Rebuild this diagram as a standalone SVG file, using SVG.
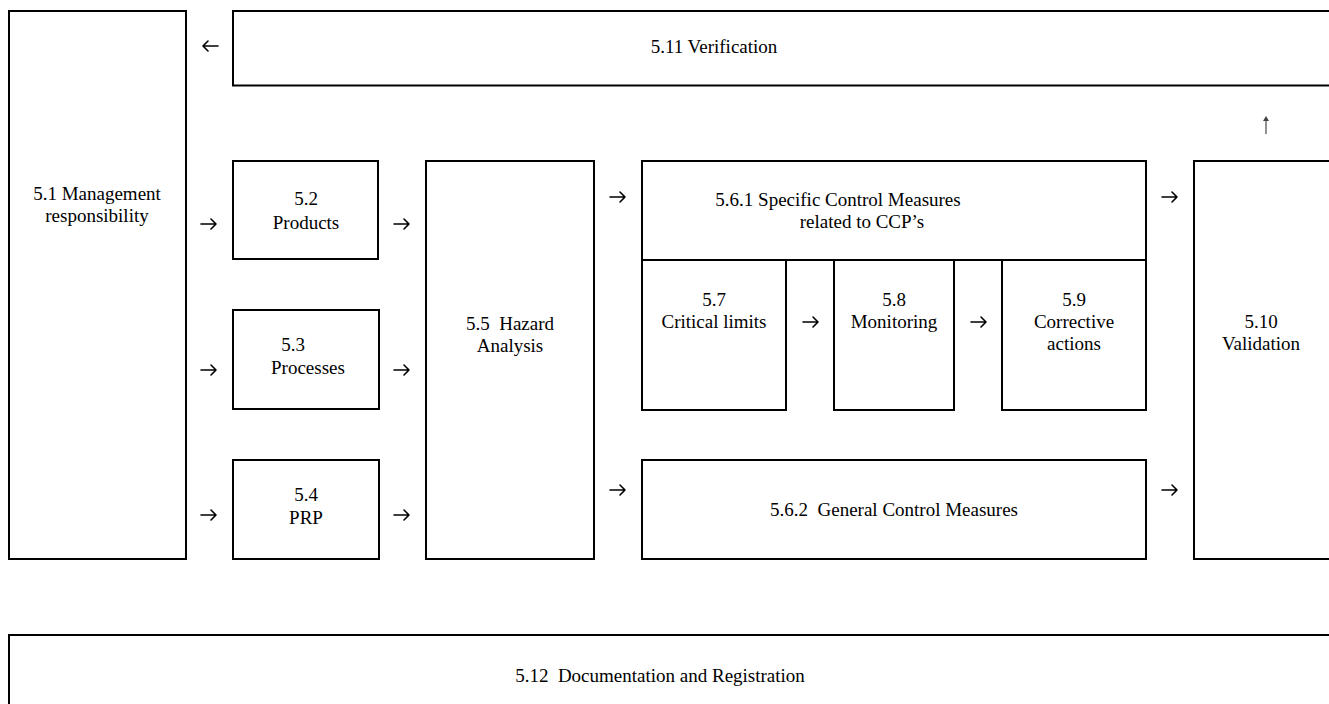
<svg xmlns="http://www.w3.org/2000/svg" width="1329" height="704" viewBox="0 0 1329 704">
<style>
.box{fill:#fff;stroke:#000;stroke-width:2}
.t{font-family:"Liberation Serif","Times New Roman",serif;font-size:19px;fill:#000;text-anchor:middle}
.arr{fill:none;stroke:#000;stroke-width:1.6;stroke-linecap:round;stroke-linejoin:round}
.up{fill:none;stroke:#777;stroke-width:1.6}
</style>
<rect width="1329" height="704" fill="#fff"/>
<g id="n51"><rect class="box" x="9" y="11" width="177" height="548"/>
<text class="t" x="97" y="200">5.1 Management</text><text class="t" x="97" y="222">responsibility</text></g>
<g id="n511"><rect class="box" x="233" y="11" width="1110" height="74.5"/>
<text class="t" x="714" y="53">5.11 Verification</text></g>
<g id="n52"><rect class="box" x="233" y="161" width="145" height="98"/>
<text class="t" x="306" y="205">5.2</text><text class="t" x="306" y="229">Products</text></g>
<g id="n53"><rect class="box" x="233" y="310" width="146" height="99"/>
<text class="t" x="293" y="351">5.3</text><text class="t" x="308" y="374">Processes</text></g>
<g id="n54"><rect class="box" x="233" y="460" width="146" height="99"/>
<text class="t" x="306" y="501">5.4</text><text class="t" x="306" y="524">PRP</text></g>
<g id="n55"><rect class="box" x="426" y="161" width="168" height="398"/>
<text class="t" x="510" y="330" xml:space="preserve">5.5  Hazard</text><text class="t" x="510" y="352">Analysis</text></g>
<g id="n561"><rect class="box" x="642" y="161" width="504" height="99"/>
<text class="t" x="838" y="206">5.6.1 Specific Control Measures</text><text class="t" x="862" y="228">related to CCP’s</text></g>
<g id="n57"><rect class="box" x="642" y="260" width="144" height="150"/>
<text class="t" x="714" y="306">5.7</text><text class="t" x="714" y="328">Critical limits</text></g>
<g id="n58"><rect class="box" x="834" y="260" width="120" height="150"/>
<text class="t" x="894" y="306">5.8</text><text class="t" x="894" y="328">Monitoring</text></g>
<g id="n59"><rect class="box" x="1002" y="260" width="144" height="150"/>
<text class="t" x="1074" y="306">5.9</text><text class="t" x="1074" y="328">Corrective</text><text class="t" x="1074" y="350">actions</text></g>
<g id="n562"><rect class="box" x="642" y="460" width="504" height="99"/>
<text class="t" x="894" y="516" xml:space="preserve">5.6.2  General Control Measures</text></g>
<g id="n510"><rect class="box" x="1194" y="161" width="150" height="398"/>
<text class="t" x="1261" y="328">5.10</text><text class="t" x="1261" y="350">Validation</text></g>
<g id="n512"><rect class="box" x="9" y="635" width="1340" height="100"/>
<text class="t" x="660" y="682" xml:space="preserve">5.12  Documentation and Registration</text></g>
<g id="connectors">
<path class="arr" d="M218 46H203M208 41L203 46L208 51"/>
<path class="arr" d="M201 224H216M211 219L216 224L211 229"/>
<path class="arr" d="M201 370H216M211 365L216 370L211 375"/>
<path class="arr" d="M201 515H216M211 510L216 515L211 520"/>
<path class="arr" d="M394 224H409M404 219L409 224L404 229"/>
<path class="arr" d="M394 370H409M404 365L409 370L404 375"/>
<path class="arr" d="M394 515H409M404 510L409 515L404 520"/>
<path class="arr" d="M610 197H625M620 192L625 197L620 202"/>
<path class="arr" d="M610 490H625M620 485L625 490L620 495"/>
<path class="arr" d="M803 322H818M813 317L818 322L813 327"/>
<path class="arr" d="M971 322H986M981 317L986 322L981 327"/>
<path class="arr" d="M1162 197H1177M1172 192L1177 197L1172 202"/>
<path class="arr" d="M1162 490H1177M1172 485L1177 490L1172 495"/>
<path class="up" d="M1266 134V119"/>
<path d="M1263 121L1266 116L1269 121Z" fill="#444"/>
</g>
</svg>
